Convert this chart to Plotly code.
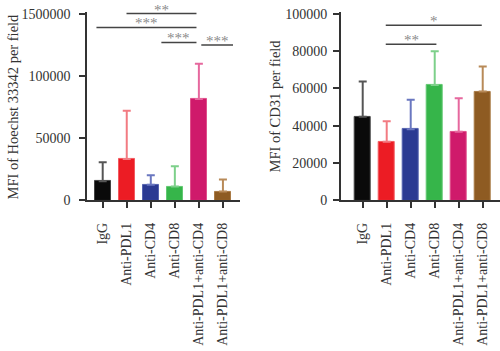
import plotly.graph_objects as go

categories = ["IgG", "Anti-PDL1", "Anti-CD4", "Anti-CD8", "Anti-PDL1+anti-CD4", "Anti-PDL1+anti-CD8"]
hoechst_mean = [15500, 33400, 12600, 11200, 81500, 7200]
hoechst_sd = [15250, 38800, 7700, 16300, 28400, 9650]
cd31_mean = [44800, 31400, 38200, 61900, 36800, 58400]
cd31_sd = [18900, 11100, 15700, 18100, 18000, 13400]
left_ticks = [0, 50000, 100000, 150000]
left_ticktext = ["0", "50000", "100000", "1500000"]
right_ticks = [0, 20000, 40000, 60000, 80000, 100000]
right_ticktext = ["0", "20000", "40000", "60000", "80000", "100000"]
# significance: (start, end, y, label)
left_sig = [(0.99, 3.9, 150200, "**"), (-0.26, 3.9, 139000, "***"),
            (2.44, 3.9, 127000, "***"), (4.1, 5.42, 124900, "***")]
right_sig = [(0.96, 4.96, 93900, "*"), (0.96, 3.07, 83700, "**")]

bar_colors = ["#0a0a0a", "#ec1c24", "#2b3a92", "#36b54a", "#cf1a6b", "#8e5b22"]
err_colors = ["#555555", "#f27b82", "#6a77c0", "#7dd08a", "#e6689e", "#b88a58"]
edge_colors = ["#444444", "#f25a60", "#5563b0", "#62c872", "#df4f8a", "#a97a45"]

FONT = "Liberation Serif"
fig = go.Figure()

for xa, ya, means, sds in [("x", "y", hoechst_mean, hoechst_sd), ("x2", "y2", cd31_mean, cd31_sd)]:
    for i, c in enumerate(categories):
        fig.add_trace(go.Bar(
            x=[c], y=[means[i]], xaxis=xa, yaxis=ya, width=0.65,
            marker=dict(color=bar_colors[i], line=dict(color=edge_colors[i], width=1)),
            error_y=dict(type="data", array=[sds[i]], arrayminus=[0], symmetric=False,
                         color=err_colors[i], thickness=2, width=4),
            showlegend=False))

axis_common = dict(showline=True, linecolor="#333333", linewidth=1.5, ticks="outside",
                   ticklen=6, tickwidth=1.5, tickcolor="#333333", showgrid=False, zeroline=False,
                   automargin=False,
                   tickfont=dict(family=FONT, size=14, color="#333333"))

fig.update_layout(
    width=500, height=351, margin=dict(l=0, r=0, t=0, b=0),
    plot_bgcolor="white", paper_bgcolor="white", bargap=0,
    xaxis=dict(domain=[0.174, 0.48], range=[-0.653, 5.71], tickangle=-90, ticklabelstandoff=9,
               type="category", categoryorder="array", categoryarray=categories, **axis_common),
    yaxis=dict(domain=[0.4288, 0.966], range=[0, 151500], tickvals=left_ticks,
               ticktext=left_ticktext, ticklabelstandoff=6, **axis_common),
    xaxis2=dict(domain=[0.6814, 1.0], range=[-0.917, 5.72], tickangle=-90, anchor="y2",
                ticklabelstandoff=9,
                type="category", categoryorder="array", categoryarray=categories, **axis_common),
    yaxis2=dict(domain=[0.4288, 0.966], range=[0, 101000], tickvals=right_ticks,
                ticktext=right_ticktext, ticklabelstandoff=3, anchor="x2", **axis_common),
)

shapes = []
annotations = []
for xr, yr, sigs in [("x", "y", left_sig), ("x2", "y2", right_sig)]:
    for x0, x1, yv, lab in sigs:
        shapes.append(dict(type="line", xref=xr, yref=yr, x0=x0, x1=x1, y0=yv, y1=yv,
                           line=dict(color="#444444", width=1.5)))
        annotations.append(dict(x=(x0 + x1) / 2, y=yv, xref=xr, yref=yr, text=lab,
                                showarrow=False, yanchor="bottom", yshift=-6,
                                font=dict(family=FONT, size=15, color="#8a8a8a")))

annotations.append(dict(x=13 / 500, y=(0.4302 + 0.963) / 2, xref="paper", yref="paper",
                        xanchor="center", yanchor="middle",
                        text="MFI of Hoechst 33342 per field", textangle=-90, showarrow=False,
                        font=dict(family=FONT, size=14.5, color="#333333")))
annotations.append(dict(x=275 / 500, y=(0.4302 + 0.963) / 2, xref="paper", yref="paper",
                        xanchor="center", yanchor="middle",
                        text="MFI of CD31 per field", textangle=-90, showarrow=False,
                        font=dict(family=FONT, size=14.5, color="#333333")))
fig.update_layout(shapes=shapes, annotations=annotations)

fig.write_html("out.html")
